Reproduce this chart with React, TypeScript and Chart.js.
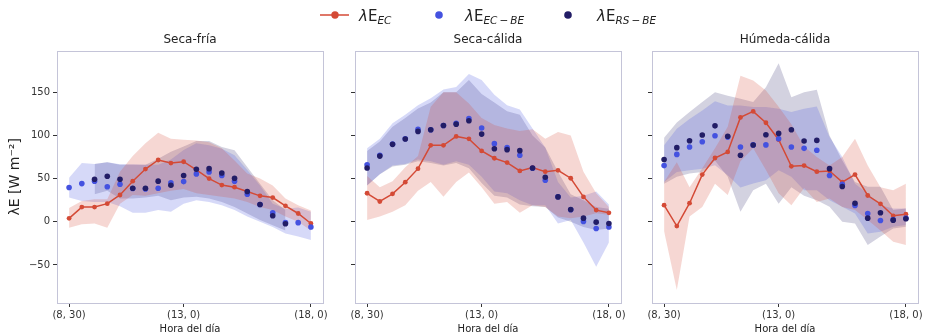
import React, { useEffect, useRef } from "react";
import { Chart, registerables } from "chart.js";
Chart.register(...registerables);

// ---------- data ----------
const categories = [
  "(8, 30)", "(9, 0)", "(9, 30)", "(10, 0)", "(10, 30)", "(11, 0)", "(11, 30)",
  "(12, 0)", "(12, 30)", "(13, 0)", "(13, 30)", "(14, 0)", "(14, 30)", "(15, 0)",
  "(15, 30)", "(16, 0)", "(16, 30)", "(17, 0)", "(17, 30)", "(18, 0)",
];
const xTickIndex = [0, 9, 19];
const xTickLabels = ["(8, 30)", "(13, 0)", "(18, 0)"];
const yTicks = [-50, 0, 50, 100, 150];
const panelTitles = ["Seca-fría", "Seca-cálida", "Húmeda-cálida"];

// Seca-fría
const ecSF = [4, 17, 17, 21, 31, 47, 61, 71.5, 68, 69.5, 60, 50, 42.5, 40, 35, 30, 28, 18.5, 9.6, -2];
const ecLoSF = [-7, -3, -2, -7, 21, 31, 30, 33, 36, 38, 33, 31, 29, 27, 23, 17, 13.5, 6, 0, -10];
const ecHiSF = [16, 24, 26, 26, 58, 76, 91, 103, 96, 95, 94, 92, 85, 71, 56, 50, 42, 27, 19, 13];
const ecbeSF = [39.6, 44.2, 47, 40.6, 43.5, 38.5, 38, 38.8, 45, 46.5, 55.4, 57.7, 53.5, 47, 32, 20, 10.4, -1, -1, -6];
const ecbeLoSF = [28, 24, 23, 23, 18, 10.5, 10.5, 13.5, 11.5, 21, 25, 23, 19, 13.5, 6, 0, -6, -13.5, -17, -21];
const ecbeHiSF = [51, 68, 67, 69, 66.5, 66.5, 66, 66, 72, 83, 91, 88.5, 84.6, 77, 60, 42, 21, 15, 16.5, 11.5];
const rsbeSF = [null, null, 49.2, 52.7, 49.2, 38.8, 38.8, 47, 42.3, 53.5, 60.8, 61.5, 56.5, 50.4, 35, 20, 7, -2.3, null, null];
const rsbeLoSF = [null, null, 32, 36, 27, 27, 28, 30, 25, 28, 29, 27, 23, 17, 9.6, 2, -4, -10, null, null];
const rsbeHiSF = [null, null, 67, 69, 66, 66, 66, 73, 81, 87, 93.5, 93.5, 86.5, 82.7, 63.5, 44, 25, 13.5, null, null];

// Seca-cálida
const ecSC = [33, 23.5, 32.3, 45.8, 61.5, 88.5, 88.5, 98.8, 96, 82, 73.5, 68.5, 58.8, 62.7, 58, 59.6, 50.4, 28.8, 13.5, 10.4];
const ecLoSC = [2, 6, 11.5, 19, 36, 46, 29, 46, 57, 40, 21, 23, 10.4, 19, 17, 6, 4, 6, 10, 8];
const ecHiSC = [53, 40, 47, 63, 76, 133, 150, 150, 137, 120, 112, 108, 105, 107, 96, 104, 100, 58, 33, 17];
const ecbeSC = [66, 77, 90, 96, 107, 106.5, 111.5, 114, 119.6, 108.5, 90.4, 85.8, 77, 62, 48, 29, 14, 0.4, -7.7, -6];
const ecbeLoSC = [42, 55, 65, 67, 72, 70, 66, 70, 66, 52, 35, 33, 25, 19, 19, -2, 2, -24, -52, -24];
const ecbeHiSC = [85, 96, 114, 124, 135, 143, 153, 156, 171, 164, 147, 135, 130, 108, 86, 46, 28, 30, 35, 20];
const rsbeSC = [62.3, 76, 89.6, 95.8, 104.6, 106.5, 111.5, 113, 117, 101.5, 84.6, 83.5, 82.3, 62.3, 51.5, 28.8, 14.2, 4.2, -0.4, -2];
const rsbeLoSC = [42, 55, 64, 66, 70, 68, 65, 68, 62, 45, 30, 28, 20, 18, 17, 5, 0, -6, -9.6, -7.7];
const rsbeHiSC = [82, 93, 110, 120, 131, 138, 150, 150, 164, 148, 138, 128, 124, 100, 86, 58, 32, 25, 17, 15];

// Húmeda-cálida
const ecHC = [19.2, -5, 21.5, 54.6, 73.8, 80.8, 120.8, 127.7, 114.6, 95, 64.2, 65, 58, 58.8, 46, 54.6, 30.4, 20.8, 6.9, 8.8];
const ecLoHC = [-11, -79, 6, 17, 44, 31, 70, 85, 60, 33, 19, 39, 23, 27, 17, 13.5, 2, -10, -23, -27];
const ecHiHC = [46, 69, 40, 62, 85, 110, 169, 163.5, 152, 133, 113, 87, 75, 65, 75, 96, 65, 40, 36.5, 44];
const ecbeHC = [65, 78, 86.5, 92.7, 99.6, 98, 86.5, 89, 89, 96, 86.5, 85, 82.7, 53.5, 43.5, 18.8, 9.6, 1.5, 2.7, 4.2];
const ecbeLoHC = [46, 57.7, 59.6, 61.5, 65.4, 53.8, 39.6, 44.2, 48, 59.6, 52, 36.5, 36.5, 25, 17.3, 9.6, -13.5, -11.5, -5.8, -3.8];
const ecbeHiHC = [88.5, 107.7, 119, 128.8, 139.6, 134.6, 134.6, 132.7, 132.7, 130.8, 127, 130.8, 133.5, 98, 75, 44, 32.7, 19.2, 15.4, 15.4];
const rsbeHC = [72, 85.8, 93.8, 100.4, 111, 99, 77, 88.8, 100.8, 102.3, 106.5, 93.5, 94.2, 61.5, 40.8, 21.5, 4.2, 10.4, 1.9, 3.5];
const rsbeLoHC = [44, 52, 55.8, 57.7, 71, 52, 11.5, 36.5, 44, 21, 40, 30, 25, 17.3, 0, -2, -27, -17, -7.7, -5.8];
const rsbeHiHC = [97.3, 115, 127, 138.5, 150, 146, 142.3, 138.5, 155.8, 183.5, 144, 150, 152.7, 100, 71, 46, 40.4, 40.4, 13.5, 15.4];

// ---------- style ----------
const RED = "#d44a36";
const BLUE = "#4452e0";
const NAVY = "#221d66";
const RED_FILL = "rgba(212,74,54,0.22)";
const BLUE_FILL = "rgba(68,82,224,0.22)";
const NAVY_FILL = "rgba(34,29,102,0.2)";
const SPINE = "#c4c4d8";
const TEXT = "#333333";
const FONT = "'DejaVu Sans', sans-serif";

const W = 931;
const H = 336;
const panelBox = [
  { left: 57, right: 323 },
  { left: 355, right: 621 },
  { left: 652, right: 918 },
];

const panels = [
  { ec: ecSF, ecLo: ecLoSF, ecHi: ecHiSF, ecbe: ecbeSF, ecbeLo: ecbeLoSF, ecbeHi: ecbeHiSF, rsbe: rsbeSF, rsbeLo: rsbeLoSF, rsbeHi: rsbeHiSF },
  { ec: ecSC, ecLo: ecLoSC, ecHi: ecHiSC, ecbe: ecbeSC, ecbeLo: ecbeLoSC, ecbeHi: ecbeHiSC, rsbe: rsbeSC, rsbeLo: rsbeLoSC, rsbeHi: rsbeHiSC },
  { ec: ecHC, ecLo: ecLoHC, ecHi: ecHiHC, ecbe: ecbeHC, ecbeLo: ecbeLoHC, ecbeHi: ecbeHiHC, rsbe: rsbeHC, rsbeLo: rsbeLoHC, rsbeHi: rsbeHiHC },
];

const pts = (arr: (number | null)[]) => arr.map((y, i) => ({ x: i, y }));

const framePlugin = {
  id: "frame",
  afterDraw(chart: any) {
    const { ctx, chartArea } = chart;
    ctx.save();
    ctx.strokeStyle = SPINE;
    ctx.lineWidth = 1;
    ctx.strokeRect(
      Math.round(chartArea.left) + 0.5,
      Math.round(chartArea.top) + 0.5,
      Math.round(chartArea.right - chartArea.left),
      Math.round(chartArea.bottom - chartArea.top)
    );
    ctx.restore();
  },
};

function bandPair(hi: (number | null)[], lo: (number | null)[], fillColor: string, label: string) {
  return [
    {
      label: label + " max",
      data: pts(hi),
      fill: "+1",
      backgroundColor: fillColor,
      borderColor: "rgba(0,0,0,0)",
      borderWidth: 0,
      pointRadius: 0,
      tension: 0,
    },
    {
      label: label + " min",
      data: pts(lo),
      fill: false,
      backgroundColor: "rgba(0,0,0,0)",
      borderColor: "rgba(0,0,0,0)",
      borderWidth: 0,
      pointRadius: 0,
      tension: 0,
    },
  ];
}

function Panel({ index }: { index: number }) {
  const ref = useRef<HTMLCanvasElement>(null);
  useEffect(() => {
    const p = panels[index];
    const box = panelBox[index];
    const first = index === 0;
    const yAxisWidth = first ? 57 : 10;
    const chart = new Chart(ref.current as HTMLCanvasElement, {
      type: "line",
      data: {
        datasets: [
          {
            label: "λE RS-BE",
            data: pts(p.rsbe),
            showLine: false,
            pointRadius: 2.8,
            pointBackgroundColor: NAVY,
            pointBorderWidth: 0,
            borderColor: NAVY,
            backgroundColor: NAVY,
          },
          {
            label: "λE EC-BE",
            data: pts(p.ecbe),
            showLine: false,
            pointRadius: 2.8,
            pointBackgroundColor: BLUE,
            pointBorderWidth: 0,
            borderColor: BLUE,
            backgroundColor: BLUE,
          },
          {
            label: "λE EC",
            data: pts(p.ec),
            borderColor: RED,
            borderWidth: 1.5,
            pointRadius: 2.4,
            pointBackgroundColor: RED,
            pointBorderWidth: 0,
            backgroundColor: RED,
            tension: 0,
            fill: false,
          },
          ...bandPair(p.ecHi, p.ecLo, RED_FILL, "EC"),
          ...bandPair(p.ecbeHi, p.ecbeLo, BLUE_FILL, "EC-BE"),
          ...bandPair(p.rsbeHi, p.rsbeLo, NAVY_FILL, "RS-BE"),
        ] as any,
      },
      options: {
        responsive: false,
        animation: false,
        devicePixelRatio: 1,
        events: [],
        layout: {
          padding: { left: box.left - yAxisWidth, right: W - box.right, top: 26.8, bottom: 0 },
        },
        plugins: {
          legend: { display: false },
          tooltip: { enabled: false },
          title: {
            display: true,
            text: panelTitles[index],
            fullSize: false,
            color: "#222222",
            font: { family: FONT, size: 12, weight: "normal" },
            padding: { top: 6, bottom: 3.5 },
          },
        },
        scales: {
          x: {
            type: "linear",
            min: -0.95,
            max: 19.95,
            afterBuildTicks: (s: any) => {
              s.ticks = xTickIndex.map((v) => ({ value: v }));
            },
            afterFit: (s: any) => {
              s.height = 33;
            },
            ticks: {
              autoSkip: false,
              maxRotation: 0,
              padding: 2,
              color: TEXT,
              font: { family: FONT, size: 10 },
              callback: (_v: any, i: number) => xTickLabels[i] ?? categories[xTickIndex[i]],
            },
            grid: { drawOnChartArea: false, drawTicks: true, tickLength: 4, tickColor: TEXT, color: TEXT },
            border: { display: false },
            title: {
              display: true,
              text: "Hora del día",
              color: "#222222",
              font: { family: FONT, size: 10 },
              padding: { top: 0, bottom: 1 },
            },
          },
          y: {
            type: "linear",
            min: -94,
            max: 198,
            afterBuildTicks: (s: any) => {
              s.ticks = yTicks.map((v) => ({ value: v }));
            },
            afterFit: (s: any) => {
              s.width = yAxisWidth;
            },
            ticks: {
              display: first,
              padding: 3,
              color: TEXT,
              font: { family: FONT, size: 10 },
              callback: (v: any) => (v < 0 ? "−" + Math.abs(v) : String(v)),
            },
            grid: { drawOnChartArea: false, drawTicks: true, tickLength: 4, tickColor: TEXT, color: TEXT },
            border: { display: false },
            title: {
              display: first,
              text: "λE [W m⁻²]",
              color: "#222222",
              font: { family: FONT, size: 14 },
              padding: { top: 7, bottom: 0 },
            },
          },
        },
      } as any,
      plugins: [framePlugin],
    });
    return () => chart.destroy();
  }, [index]);
  return (
    <canvas
      ref={ref}
      width={W}
      height={H}
      style={{ position: "absolute", left: 0, top: 0, width: W, height: H }}
    />
  );
}

function Legend() {
  const base = 20.7;
  const sub = (t: string) => (
    <tspan fontSize={10.5} fontStyle="italic" dy={2.8}>
      {t}
    </tspan>
  );
  return (
    <svg width={W} height={30} style={{ position: "absolute", left: 0, top: 0 }}>
      <line x1={320} y1={15} x2={349} y2={15} stroke={RED} strokeWidth={1.5} />
      <circle cx={335} cy={15} r={3.7} fill={RED} />
      <text x={359} y={base} fontFamily={FONT} fontSize={15} fill="#222222">
        <tspan fontStyle="italic">λ</tspan>E{sub("EC")}
      </text>
      <circle cx={439} cy={15} r={3.8} fill={BLUE} />
      <text x={465} y={base} fontFamily={FONT} fontSize={15} fill="#222222">
        <tspan fontStyle="italic">λ</tspan>E{sub("EC\u2009−\u2009BE")}
      </text>
      <circle cx={568} cy={15} r={3.8} fill={NAVY} />
      <text x={597} y={base} fontFamily={FONT} fontSize={15} fill="#222222">
        <tspan fontStyle="italic">λ</tspan>E{sub("RS\u2009−\u2009BE")}
      </text>
    </svg>
  );
}

export default function App() {
  return (
    <div
      style={{
        position: "fixed",
        left: 0,
        top: 0,
        width: W,
        height: H,
        background: "#ffffff",
        overflow: "hidden",
      }}
    >
      <Panel index={0} />
      <Panel index={1} />
      <Panel index={2} />
      <Legend />
    </div>
  );
}
